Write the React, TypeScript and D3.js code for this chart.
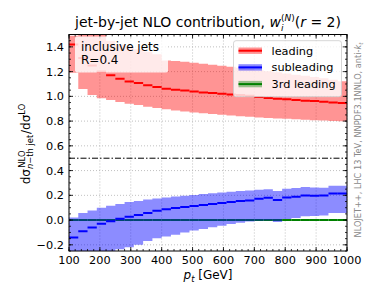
import React from 'react';
import * as d3 from 'd3';

// 30 GeV bins from 100 to 1000 GeV
const binEdges = [100, 130, 160, 190, 220, 250, 280, 310, 340, 370, 400, 430, 460, 490, 520, 550, 580, 610, 640, 670, 700, 730, 760, 790, 820, 850, 880, 910, 940, 970, 1000];

const leadingCentral = [1.42, 1.31, 1.25, 1.2, 1.17, 1.143, 1.121, 1.108, 1.089, 1.076, 1.062, 1.054, 1.048, 1.04, 1.032, 1.027, 1.022, 1.016, 1.011, 1.005, 0.995, 0.987, 0.981, 0.976, 0.971, 0.964, 0.962, 0.957, 0.951, 0.946];
const leadingUpper = [1.49, 1.7, 1.62, 1.56, 1.45, 1.42, 1.4, 1.38, 1.36, 1.34, 1.29, 1.285, 1.28, 1.272, 1.264, 1.255, 1.247, 1.24, 1.232, 1.222, 1.212, 1.203, 1.194, 1.185, 1.175, 1.166, 1.156, 1.146, 1.135, 1.122];
const leadingLower = [1.19, 1.06, 1.01, 0.985, 0.97, 0.955, 0.94, 0.93, 0.915, 0.905, 0.895, 0.885, 0.877, 0.87, 0.863, 0.857, 0.851, 0.845, 0.84, 0.835, 0.83, 0.826, 0.822, 0.818, 0.814, 0.81, 0.807, 0.804, 0.801, 0.798];

const subCentral = [-0.14, -0.09, -0.06, -0.03, -0.01, 0.01, 0.027, 0.04, 0.057, 0.075, 0.087, 0.097, 0.105, 0.113, 0.121, 0.129, 0.137, 0.146, 0.154, 0.159, 0.172, 0.18, 0.162, 0.183, 0.188, 0.199, 0.197, 0.199, 0.215, 0.215];
const subUpper = [0.021, 0.057, 0.078, 0.1, 0.116, 0.129, 0.146, 0.154, 0.167, 0.175, 0.183, 0.19, 0.197, 0.203, 0.21, 0.217, 0.223, 0.229, 0.235, 0.24, 0.245, 0.25, 0.235, 0.253, 0.259, 0.267, 0.264, 0.262, 0.278, 0.278];
const subLower = [-0.32, -0.3, -0.28, -0.27, -0.26, -0.235, -0.22, -0.2, -0.17, -0.146, -0.132, -0.119, -0.1, -0.085, -0.072, -0.058, -0.046, -0.032, -0.022, -0.012, -0.006, -0.003, -0.016, 0.008, 0.016, 0.03, 0.032, 0.037, 0.057, 0.057];

const thirdCentral = [0.001, 0.001, 0.001, 0.001, 0.001, 0.001, 0.001, 0.001, 0.001, 0.001, 0.001, 0.001, 0.001, 0.001, 0.001, 0.001, 0.001, 0.001, 0.001, 0.001, 0.001, 0.001, 0.001, 0.001, 0.001, 0.001, 0.001, 0.001, 0.001, 0.001];
const thirdUpper = [0.003, 0.003, 0.003, 0.003, 0.003, 0.003, 0.003, 0.003, 0.003, 0.003, 0.003, 0.003, 0.003, 0.003, 0.003, 0.003, 0.003, 0.003, 0.003, 0.003, 0.003, 0.003, 0.003, 0.003, 0.003, 0.003, 0.003, 0.003, 0.003, 0.003];
const thirdLower = [-0.001, -0.001, -0.001, -0.001, -0.001, -0.001, -0.001, -0.001, -0.001, -0.001, -0.001, -0.001, -0.001, -0.001, -0.001, -0.001, -0.001, -0.001, -0.001, -0.001, -0.001, -0.001, -0.001, -0.001, -0.001, -0.001, -0.001, -0.001, -0.001, -0.001];

const seriesNames = ['leading', 'subleading', '3rd leading'];
const xTicks = [100, 200, 300, 400, 500, 600, 700, 800, 900, 1000];
const yTicks = [-0.2, 0.0, 0.2, 0.4, 0.6, 0.8, 1.0, 1.2, 1.4];
const refLine = 0.5;

const W = 374;
const H = 299;
const L = 69, R = 347, T = 34.5, B = 251;
const FONT = 'DejaVu Sans, sans-serif';

const x = d3.scaleLinear().domain([100, 1000]).range([L, R]);
const y = d3.scaleLinear().domain([-0.25, 1.5]).range([B, T]);

const series = [
  { name: seriesNames[2], color: '#008000', c: thirdCentral, lo: thirdLower, hi: thirdUpper, op: 0.4 },
  { name: seriesNames[1], color: '#0000ff', c: subCentral, lo: subLower, hi: subUpper, op: 0.45 },
  { name: seriesNames[0], color: '#ff0000', c: leadingCentral, lo: leadingLower, hi: leadingUpper, op: 0.42 },
];

const bandPath = (lo: number[], hi: number[]) => {
  const pts = binEdges.map((e, i) => ({ e, lo: lo[Math.min(i, lo.length - 1)], hi: hi[Math.min(i, hi.length - 1)] }));
  return d3.area<{ e: number; lo: number; hi: number }>()
    .x(d => x(d.e))
    .y0(d => y(d.lo))
    .y1(d => y(d.hi))
    .curve(d3.curveStepAfter)(pts) || '';
};

const fmt = (v: number) => d3.format('.1f')(v).replace('-', '\u2212');

const App: React.FC = () => {
  const xMinor = d3.range(100, 1001, 20);
  const yMinor = d3.range(-0.25, 1.5001, 0.05);
  const legendItems = [series[2], series[1], series[0]];

  return (
    <svg width={W} height={H} style={{ position: 'absolute', left: 0, top: 0, background: '#fff' }} fontFamily={FONT}>
      <defs>
        <clipPath id="plot">
          <rect x={L} y={T} width={R - L} height={B - T} />
        </clipPath>
      </defs>

      {/* grid */}
      <g stroke="#b0b0b0" strokeWidth={0.8} strokeDasharray="1,2">
        {xTicks.map(t => <line key={'gx' + t} x1={x(t)} x2={x(t)} y1={T} y2={B} />)}
        {yTicks.map(t => <line key={'gy' + t} x1={L} x2={R} y1={y(t)} y2={y(t)} />)}
      </g>

      <g clipPath="url(#plot)">
        {series.map(s => (
          <g key={s.name}>
            <path d={bandPath(s.lo, s.hi)} fill={s.color} fillOpacity={s.op} stroke="none" />
            {s.c.map((v, i) => (
              <line key={i} x1={x(binEdges[i])} x2={x(binEdges[i + 1])} y1={y(v)} y2={y(v)} stroke={s.color} strokeWidth={2} />
            ))}
          </g>
        ))}
        <line x1={L} x2={R} y1={y(refLine)} y2={y(refLine)} stroke="#000" strokeWidth={1} strokeDasharray="6,2,1.5,2" />
      </g>

      {/* ticks */}
      <g stroke="#000" strokeWidth={0.8}>
        {xMinor.map(t => (
          <g key={'xm' + t}>
            <line x1={x(t)} x2={x(t)} y1={B} y2={B - 2} />
            <line x1={x(t)} x2={x(t)} y1={T} y2={T + 2} />
          </g>
        ))}
        {xTicks.map(t => (
          <g key={'xM' + t}>
            <line x1={x(t)} x2={x(t)} y1={B} y2={B - 4} />
            <line x1={x(t)} x2={x(t)} y1={T} y2={T + 4} />
          </g>
        ))}
        {yMinor.map(t => (
          <g key={'ym' + t}>
            <line x1={L} x2={L + 2} y1={y(t)} y2={y(t)} />
            <line x1={R} x2={R - 2} y1={y(t)} y2={y(t)} />
          </g>
        ))}
        {yTicks.map(t => (
          <g key={'yM' + t}>
            <line x1={L} x2={L + 4} y1={y(t)} y2={y(t)} />
            <line x1={R} x2={R - 4} y1={y(t)} y2={y(t)} />
          </g>
        ))}
      </g>

      <rect x={L} y={T} width={R - L} height={B - T} fill="none" stroke="#000" strokeWidth={1} />

      {/* tick labels */}
      <g fontSize={11.3} fill="#000">
        {xTicks.map(t => (
          <text key={'xl' + t} x={x(t)} y={263.5} textAnchor="middle">{t}</text>
        ))}
        {yTicks.map(t => (
          <text key={'yl' + t} x={64} y={y(t) + 4} textAnchor="end">{fmt(t)}</text>
        ))}
      </g>

      {/* inclusive jets box */}
      <rect x={75} y={36.5} width={93} height={36} rx={2} fill="#fff" fillOpacity={0.8} />
      <text x={81} y={50.7} fontSize={12}>inclusive jets</text>
      <text x={81} y={64} fontSize={12}>R=0.4</text>

      {/* legend */}
      <rect x={233.5} y={40.7} width={108} height={56} rx={2.5} fill="#fff" fillOpacity={0.8} stroke="#cccccc" strokeWidth={0.8} />
      {legendItems.map((s, i) => {
        const cy = 50.7 + i * 16.7;
        return (
          <g key={'lg' + s.name}>
            <rect x={238.5} y={cy - 3.2} width={23.5} height={6.4} fill={s.color} fillOpacity={s.op} />
            <line x1={238.5} x2={262} y1={cy} y2={cy} stroke={s.color} strokeWidth={2} />
            <text x={271.5} y={cy + 4} fontSize={11.3}>{s.name}</text>
          </g>
        );
      })}

      {/* title */}
      <text x={(L + R) / 2} y={27.3} textAnchor="middle" fontSize={14}>
        jet-by-jet NLO contribution,{' '}
        <tspan fontStyle="italic">w</tspan>
        <tspan fontStyle="italic" fontSize={9} dy={3.5}>i</tspan>
        <tspan fontSize={9} dx={-2.5} dy={-10}>(<tspan fontStyle="italic">N</tspan>)</tspan>
        <tspan dy={6.5}>(</tspan>
        <tspan fontStyle="italic">r</tspan>
        <tspan> = 2)</tspan>
      </text>

      {/* y label */}
      <text transform={`translate(30,${144}) rotate(-90)`} textAnchor="middle" fontSize={12}>
        dσ
        <tspan fontSize={8.4} dy={3}><tspan fontStyle="italic">n</tspan>−th jet</tspan>
        <tspan fontSize={8.4} dx={-33} dy={-8.5}>NLO</tspan>
        <tspan dx={16.5} dy={5.5}>/dσ</tspan>
        <tspan fontSize={8.4} dy={-5}>LO</tspan>
      </text>

      {/* x label */}
      <text x={(L + R) / 2} y={279} textAnchor="middle" fontSize={12}>
        <tspan fontStyle="italic">p</tspan>
        <tspan fontStyle="italic" fontSize={8.4} dy={2.5}>t</tspan>
        <tspan dy={-2.5}> [GeV]</tspan>
      </text>

      {/* side annotation */}
      <text transform={`translate(361,140) rotate(-90)`} textAnchor="middle" fontSize={8.2} fill="#8a8a8a">
        NLOJET++, LHC 13 TeV, NNPDF3.1NNLO, anti-
        <tspan fontStyle="italic">k</tspan>
        <tspan fontStyle="italic" fontSize={5.8} dy={1.8}>t</tspan>
      </text>
    </svg>
  );
};

export default App;
